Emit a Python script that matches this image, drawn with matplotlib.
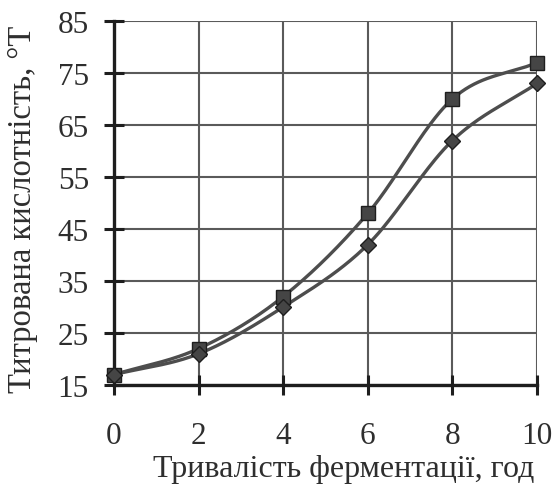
import numpy as np
import matplotlib
matplotlib.use("Agg")
import matplotlib.pyplot as plt

hours = [0, 2, 4, 6, 8, 10]
series_square = [17, 22, 32, 48, 70, 77]
series_diamond = [17, 21, 30, 42, 62, 73]
x_ticks = [0, 2, 4, 6, 8, 10]
y_ticks = [15, 25, 35, 45, 55, 65, 75, 85]

plt.rcParams['font.family'] = ['Liberation Serif', 'DejaVu Serif']


def smooth(x, y, n=40):
    # Excel-like Catmull-Rom smoothing through the points
    x = np.asarray(x, float); y = np.asarray(y, float)
    px = np.concatenate([[2*x[0]-x[1]], x, [2*x[-1]-x[-2]]])
    py = np.concatenate([[2*y[0]-y[1]], y, [2*y[-1]-y[-2]]])
    xs, ys = [], []
    t = np.linspace(0, 1, n)
    for i in range(1, len(px)-2):
        p0, p1, p2, p3 = [np.array([px[j], py[j]]) for j in range(i-1, i+3)]
        c1 = p1 + (p2 - p0) / 6
        c2 = p2 - (p3 - p1) / 6
        pts = ((1-t)**3)[:, None]*p1 + (3*(1-t)**2*t)[:, None]*c1 + (3*(1-t)*t**2)[:, None]*c2 + (t**3)[:, None]*p2
        xs.extend(pts[:, 0]); ys.extend(pts[:, 1])
    return np.array(xs), np.array(ys)


fig = plt.figure(figsize=(5.56, 4.85), dpi=100)
ax = fig.add_axes([114/556, 1-386/485, (537-114)/556, (386-22)/485])

line_col = '#4d4d4d'
mk_col = '#454545'
for ys, mk, ms in [(series_square, 's', 9.5), (series_diamond, 'D', 8)]:
    sx, sy = smooth(hours, ys)
    ax.plot(sx, sy, color=line_col, lw=2.4, zorder=3, clip_on=False)
    ax.plot(hours, ys, linestyle='none', marker=mk, ms=ms, mfc=mk_col,
            mec='#1e1e1e', mew=1.0, zorder=4, clip_on=False)

ax.set_xlim(0, 10)
ax.set_ylim(15, 85)
ax.set_xticks(x_ticks)
ax.set_yticks(y_ticks)
ax.grid(True, color='#5a5a5a', lw=1.5)
ax.set_axisbelow(True)
for s in ['top', 'right']:
    ax.spines[s].set_visible(False)
for s in ['left', 'bottom']:
    ax.spines[s].set_linewidth(2.4)
    ax.spines[s].set_color('#1e1e1e')
ax.tick_params(direction='inout', length=14, width=2.2, color='#1e1e1e',
               labelsize=22.5, labelcolor='#2e2e2e')
ax.tick_params(axis='x', pad=19)
ax.tick_params(axis='y', pad=11)

ax.set_xlabel('Тривалість ферментації, год', fontsize=23, color='#2e2e2e', labelpad=3)
ax.xaxis.label.set_x(0.543)
ax.set_ylabel('Титрована кислотність, °Т', fontsize=23.5, color='#2e2e2e', labelpad=14)
ax.yaxis.label.set_y(0.485)

fig.savefig('out.png', dpi=100)
